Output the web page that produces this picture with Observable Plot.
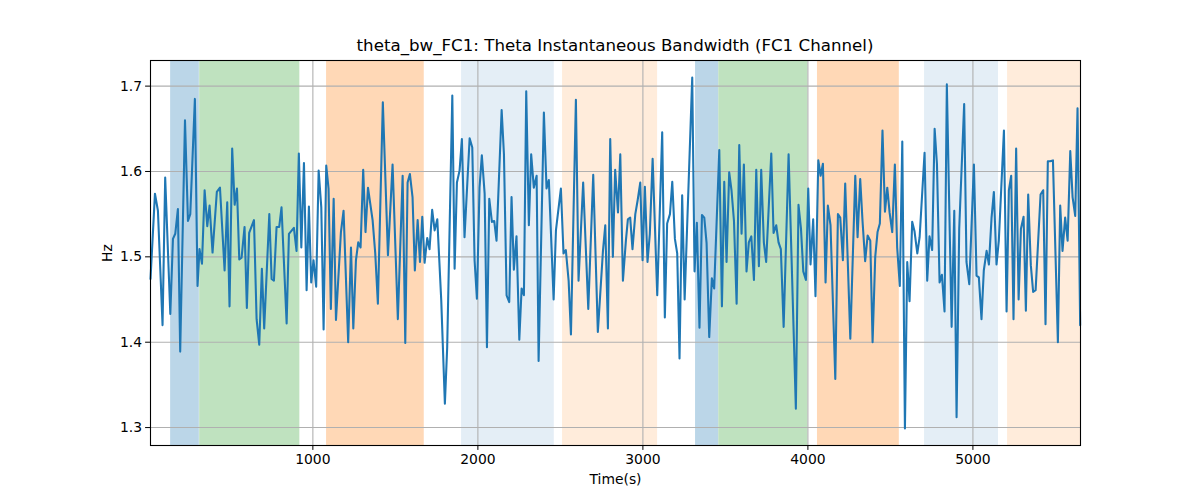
<!DOCTYPE html>
<html>
<head>
<meta charset="utf-8">
<script src="https://cdn.jsdelivr.net/npm/d3@7"></script>
<script src="https://cdn.jsdelivr.net/npm/@observablehq/plot@0.6"></script>
<style>
  body { margin: 0; background: #fff; }
  #wrap { position: relative; width: 1200px; height: 500px; }
  #title { position: absolute; left: 150px; width: 930px; top: 36px; line-height: 20px;
           text-align: center; font-family: "DejaVu Sans"; font-size: 16.67px; color: #000; }
  svg { display: block; }
</style>
</head>
<body>
<div id="wrap"><div id="title">theta_bw_FC1: Theta Instantaneous Bandwidth (FC1 Channel)</div></div>
<script>
// ---- data ----
const times = [
  16,43,61,89,105,136,152,166,182,196,225,243,257,285,301,313,328,344,360,374,392,418,437,465,481,495,511,526,540,554,
  568,586,600,614,643,659,675,691,705,736,750,764,780,796,810,841,855,885,901,915,930,946,962,976,990,1004,1020,1035,1051,1065,1081,1095,1109,
  1126,1140,1170,1186,1214,1231,1245,1261,1275,1289,1305,1319,1334,1362,1378,1394,1424,1455,1483,1515,1544,1560,1574,1588,1604,1618,1635,1649,1663,
  1677,1693,1707,1723,1738,1754,1778,1800,1814,1845,1859,1873,1889,1903,1919,1950,1966,1980,1994,2010,2024,2041,2055,2069,2085,2099,2113,2144,2158,2174,2190,2204,2218,
  2234,2251,2265,2279,2293,2309,2323,2339,2356,2368,2400,2416,2430,2459,2473,2503,2519,2533,2550,2564,2594,2610,2638,2669,2699,2727,2758,2772,2788,
  2802,2818,2832,2849,2863,2879,2897,2909,2923,2937,2954,2968,2984,2998,3012,3028,3042,3059,3073,3087,3117,3133,3147,3164,3178,3194,3208,3222,3238,3253,3299,3313,3327,3343,
  3358,3372,3386,3402,3418,3432,3463,3479,3493,3507,3523,3537,3552,3568,3584,3598,3612,3628,3642,3657,3673,3687,3703,3717,3733,3747,3778,3792,3808,3822,3836,3853,3883,
  3927,3943,3958,3972,3988,4002,4016,4032,4046,4063,4077,4091,4107,4121,4137,4166,4182,4196,4212,4226,4257,4287,4301,4317,4331,4347,4362,4378,4392,4408,4422,4436,4452,
  4467,4481,4495,4511,4527,4541,4557,4572,4588,4602,4616,4632,4646,4663,4677,4707,4723,4737,4753,4768,4782,4798,4812,4828,4842,4871,4887,4901,4917,4947,4961,4978,5006,
  5022,5036,5052,5066,5083,5097,5113,5127,5143,5157,5188,5204,5218,5232,5246,5262,5277,5291,5307,5321,5335,5351,5365,5380,5410,5426,5440,5454,5468,5485,5515,5529,5543,5559,5574,5590,5604,5620,5634,5650
];
const bandwidth = [
  1.474,1.574,1.554,1.420,1.593,1.433,1.521,1.527,1.556,1.389,1.660,1.542,1.550,1.685,1.466,1.509,1.492,1.578,1.536,1.560,1.505,1.576,1.581,1.484,1.564,1.442,1.627,1.561,1.580,1.497,
  1.499,1.535,1.440,1.528,1.543,1.427,1.397,1.486,1.416,1.550,1.474,1.472,1.535,1.535,1.558,1.422,1.527,1.534,1.507,1.621,1.511,1.610,1.461,1.559,1.470,1.496,1.465,1.601,1.558,1.415,1.607,1.580,1.439,
  1.568,1.426,1.529,1.554,1.400,1.511,1.416,1.496,1.517,1.511,1.602,1.529,1.581,1.543,1.504,1.445,1.681,1.502,1.608,1.427,1.595,1.399,1.587,1.597,1.570,1.484,1.543,1.494,1.547,
  1.493,1.522,1.509,1.555,1.531,1.544,1.449,1.328,1.394,1.689,1.486,1.587,1.601,1.638,1.523,1.639,1.628,1.496,1.451,1.581,1.619,1.574,1.394,1.568,1.541,1.542,1.519,1.672,1.620,1.455,1.447,1.570,1.485,
  1.524,1.403,1.463,1.455,1.694,1.537,1.620,1.581,1.595,1.378,1.669,1.580,1.590,1.450,1.531,1.580,1.504,1.508,1.472,1.409,1.684,1.472,1.587,1.439,1.596,1.412,1.507,1.537,1.416,
  1.638,1.500,1.602,1.552,1.620,1.472,1.519,1.544,1.546,1.509,1.550,1.566,1.587,1.496,1.582,1.494,1.527,1.615,1.535,1.455,1.646,1.429,1.539,1.550,1.588,1.521,1.504,1.381,1.572,1.450,1.710,1.483,1.540,1.417,
  1.549,1.546,1.516,1.406,1.475,1.463,1.625,1.442,1.588,1.494,1.599,1.578,1.542,1.445,1.631,1.527,1.608,1.483,1.517,1.524,1.473,1.602,1.489,1.602,1.517,1.494,1.621,1.528,1.537,1.517,1.509,1.418,1.620,
  1.322,1.561,1.533,1.483,1.473,1.580,1.491,1.544,1.454,1.613,1.595,1.609,1.470,1.560,1.537,1.357,1.550,1.546,1.496,1.586,1.404,1.595,1.523,1.591,1.542,1.495,1.525,1.519,1.400,1.500,1.529,1.539,1.648,
  1.553,1.581,1.552,1.529,1.608,1.511,1.466,1.635,1.299,1.494,1.448,1.541,1.530,1.504,1.523,1.622,1.472,1.524,1.508,1.650,1.609,1.470,1.479,1.436,1.702,1.418,1.554,1.312,1.533,1.679,1.494,1.468,1.608,
  1.478,1.476,1.427,1.484,1.507,1.491,1.546,1.576,1.491,1.519,1.648,1.436,1.578,1.595,1.427,1.627,1.450,1.533,1.547,1.437,1.573,1.490,1.459,1.461,1.573,1.578,1.421,1.612,1.612,1.613,1.400,1.560,1.507,1.546,1.519,1.624,1.570,1.548,1.674,1.420
];
const spanStart = [138, 314, 1083, 1901, 2513, 3319, 3460, 4058, 4707, 5210];
const spanEnd   = [312, 921, 1675, 2463, 3089, 3459, 4000, 4554, 5155, 5652];
const spanKind  = ["S1","S2","S3","S4","S5","S1","S2","S3","S4","S5"];
const xTicks = [1000, 2000, 3000, 4000, 5000];
const yTicks = [1.3, 1.4, 1.5, 1.6, 1.7];

// ---- styling ----
const kindFill = {S1:"#1f77b4", S2:"#2ca02c", S3:"#ff7f0e", S4:"#1f77b4", S5:"#ff7f0e"};
const kindOpacity = {S1:0.3, S2:0.3, S3:0.3, S4:0.12, S5:0.15};

const series = times.map((t, i) => ({t, v: bandwidth[i]}));
const spans = spanStart.map((s, i) => ({start: s, end: spanEnd[i], kind: spanKind[i]}));

const chart = Plot.plot({
  width: 1200, height: 500,
  marginLeft: 150, marginRight: 120, marginTop: 60, marginBottom: 55,
  style: {fontFamily: "DejaVu Sans", fontSize: "13.9px", color: "#000", background: "#fff"},
  x: {domain: [16, 5652]},
  y: {domain: [1.279, 1.730]},
  marks: [
    Plot.rect(spans, {x1: "start", x2: "end", fill: d => kindFill[d.kind], fillOpacity: d => kindOpacity[d.kind]}),
    Plot.gridX(xTicks, {stroke: "#b0b0b0", strokeOpacity: 1, strokeWidth: 1.1}),
    Plot.gridY(yTicks, {stroke: "#b0b0b0", strokeOpacity: 1, strokeWidth: 1.1}),
    Plot.line(series, {x: "t", y: "v", stroke: "#1f77b4", strokeWidth: 2.08}),
    Plot.frame({stroke: "#000", strokeWidth: 1.1}),
    Plot.axisX({ticks: xTicks, tickSize: 4.9, tickPadding: 3.5, tickFormat: d => String(d), label: "Time(s)", labelAnchor: "center", labelOffset: 38, labelArrow: "none"}),
    Plot.axisY({ticks: yTicks, tickSize: 4.9, tickPadding: 3.5, tickFormat: d => d.toFixed(1), label: "Hz", labelAnchor: "center", labelOffset: 48, labelArrow: "none"})
  ]
});
document.getElementById("wrap").appendChild(chart);
</script>
</body>
</html>
